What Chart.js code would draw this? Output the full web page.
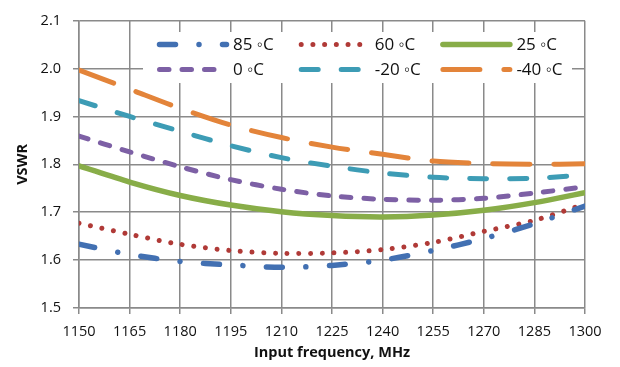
<!DOCTYPE html>
<html>
<head>
<meta charset="utf-8">
<script src="https://cdn.jsdelivr.net/npm/chart.js@4"></script>
<style>
  body { margin: 0; background: #fff; }
  #wrap { width: 620px; height: 367px; position: relative; }
</style>
</head>
<body>
<div id="wrap"><canvas id="vswrChart"></canvas></div>
<script>
// VSWR vs input frequency at several temperatures

/* ---------------- DATA ---------------- */
const freqs = [1150, 1165, 1180, 1195, 1210, 1225, 1240, 1255, 1270, 1285, 1300];

const vswr85  = [1.633, 1.612, 1.597, 1.590, 1.585, 1.589, 1.600, 1.620, 1.645, 1.676, 1.713];
const vswr60  = [1.677, 1.654, 1.633, 1.620, 1.614, 1.615, 1.622, 1.637, 1.660, 1.683, 1.717];
const vswr25  = [1.797, 1.763, 1.735, 1.715, 1.701, 1.693, 1.690, 1.694, 1.704, 1.720, 1.741];
const vswr0   = [1.859, 1.826, 1.795, 1.768, 1.748, 1.734, 1.727, 1.725, 1.729, 1.740, 1.753];
const vswrM20 = [1.933, 1.900, 1.869, 1.839, 1.814, 1.796, 1.782, 1.773, 1.770, 1.771, 1.778];
const vswrM40 = [1.997, 1.957, 1.917, 1.882, 1.856, 1.836, 1.821, 1.807, 1.802, 1.800, 1.801];

const seriesLabels = ["85 \u25E6C", "60 \u25E6C", "25 \u25E6C", "0 \u25E6C", "-20 \u25E6C", "-40 \u25E6C"];

const FONT = '"Open Sans", "Liberation Sans", sans-serif';
const GRID = '#8a8a8a';

function toPoints(vals) {
    return vals.map((v, i) => ({ x: freqs[i], y: v }));
}

function makeSet(label, vals, color, dash, width) {
    return {
        label,
        data: toPoints(vals),
        borderColor: color,
        backgroundColor: color,
        borderWidth: width,
        borderDash: dash,
        borderCapStyle: 'round',
        pointRadius: 0,
        tension: 0.3,
        fill: false
    };
}

/* ---------------- LEGEND (inside plot, white box) ---------------- */
const insideLegend = {
    id: 'insideLegend',
    afterDatasetsDraw(chart) {
        const ctx = chart.ctx;
        ctx.save();
        ctx.fillStyle = '#fff';
        ctx.fillRect(143, 32, 429, 51);
        chart.data.datasets.forEach((ds, i) => {
            const x0 = 157 + (i % 3) * 141.7;
            const y = 44.5 + Math.floor(i / 3) * 25;
            ctx.beginPath();
            ctx.strokeStyle = ds.borderColor;
            ctx.lineWidth = ds.borderWidth;
            ctx.lineCap = 'round';
            ctx.setLineDash(ds.borderDash || []);
            ctx.moveTo(x0 + 2.5, y);
            ctx.lineTo(x0 + 69.5, y);
            ctx.stroke();
            ctx.setLineDash([]);
            ctx.fillStyle = '#111';
            ctx.font = '17px ' + FONT;
            ctx.textBaseline = 'middle';
            ctx.textAlign = 'left';
            ctx.fillText(ds.label, x0 + 76, y + 1);
        });
        ctx.restore();
    }
};

/* ---------------- CHART ---------------- */
new Chart(document.getElementById("vswrChart"), {
    type: 'line',
    data: {
        datasets: [
            makeSet(seriesLabels[0], vswr85,  '#4270b2', [16, 23.5, 0.01, 23.5], 5.5),
            makeSet(seriesLabels[1], vswr60,  '#b03a37', [0.01, 11.7], 5),
            makeSet(seriesLabels[2], vswr25,  '#88ad48', [], 5.5),
            makeSet(seriesLabels[3], vswr0,   '#7d60a5', [9.5, 13], 5),
            makeSet(seriesLabels[4], vswrM20, '#3d9cb5', [17, 23], 5),
            makeSet(seriesLabels[5], vswrM40, '#e3843a', [37, 24], 5)
        ]
    },
    options: {
        responsive: true,
        maintainAspectRatio: false,
        animation: false,
        layout: { padding: { left: 0, right: 35, top: 18, bottom: 0 } },
        plugins: {
            legend: { display: false },
            tooltip: { enabled: false }
        },
        scales: {
            x: {
                type: 'linear',
                min: 1150,
                max: 1300,
                afterFit: (s) => { s.height = 59; },
                ticks: {
                    stepSize: 15,
                    color: '#111',
                    font: { family: FONT, size: 14.5 },
                    padding: 9,
                    maxRotation: 0,
                    callback: (v) => String(v)
                },
                grid: { color: GRID, lineWidth: 1.5, tickLength: 6 },
                border: { color: GRID, width: 1.5 },
                title: {
                    display: true,
                    text: 'Input frequency, MHz',
                    color: '#111',
                    font: { family: FONT, size: 14.5, weight: 'bold' },
                    padding: { top: 0, bottom: 5 }
                }
            },
            y: {
                min: 1.5,
                max: 2.1,
                afterFit: (s) => { s.width = 79; },
                ticks: {
                    stepSize: 0.1,
                    color: '#111',
                    font: { family: FONT, size: 14.5 },
                    padding: 12,
                    callback: (v) => v.toFixed(1)
                },
                grid: { color: GRID, lineWidth: 1.5, tickLength: 6 },
                border: { color: GRID, width: 1.5 },
                title: {
                    display: true,
                    text: 'VSWR',
                    color: '#111',
                    font: { family: FONT, size: 14.5, weight: 'bold' },
                    padding: { top: 14, bottom: 0 }
                }
            }
        }
    },
    plugins: [insideLegend]
});
</script>
</body>
</html>
